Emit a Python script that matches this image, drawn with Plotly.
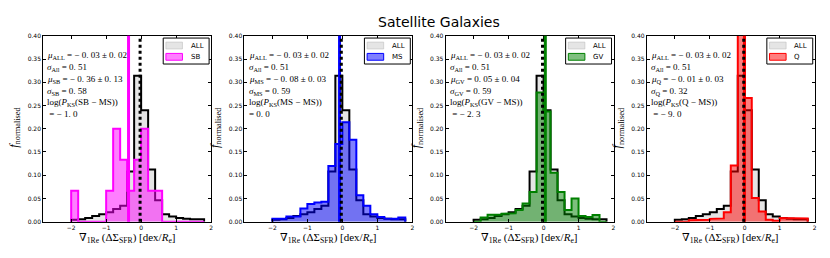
import plotly.graph_objects as go

# ---------------- data ----------------
BIN_EDGES = [-2.0, -1.8, -1.6, -1.4, -1.2, -1.0, -0.8, -0.6, -0.4, -0.2,
             0.0, 0.2, 0.4, 0.6, 0.8, 1.0, 1.2, 1.4, 1.6, 1.8]

ALL_FRAC = [0.004, 0.005, 0.008, 0.012, 0.016, 0.020, 0.027, 0.034, 0.108, 0.314,
            0.240, 0.112, 0.046, 0.016, 0.011, 0.008, 0.006, 0.005, 0.005]
SB_FRAC = [0.0667, 0.0, 0.0, 0.0, 0.0, 0.0667, 0.2, 0.1333, 0.0667, 0.1333,
           0.2, 0.0667, 0.0667, 0.0, 0.0, 0.0, 0.0, 0.0, 0.0]
MS_FRAC = [0.006, 0.006, 0.011, 0.011, 0.028, 0.038, 0.041, 0.043, 0.120, 0.167,
           0.214, 0.176, 0.057, 0.034, 0.016, 0.010, 0.007, 0.006, 0.009]
GV_FRAC = [0.0, 0.009, 0.015, 0.015, 0.017, 0.018, 0.025, 0.039, 0.064, 0.278,
           0.237, 0.105, 0.064, 0.025, 0.050, 0.012, 0.010, 0.014, 0.0]
Q_FRAC = [0.0, 0.0, 0.003, 0.004, 0.004, 0.006, 0.007, 0.020, 0.121, 0.460,
          0.266, 0.051, 0.022, 0.004, 0.002, 0.008, 0.008, 0.007, 0.007]

GROUPS = ["SB", "MS", "GV", "Q"]
GROUP_FRACS = [SB_FRAC, MS_FRAC, GV_FRAC, Q_FRAC]
MEAN_ALL = -0.03
GROUP_MEANS = [-0.36, -0.08, 0.05, -0.01]

STAT_LINES = [
    ["<i>μ</i><sub>ALL</sub> = − 0. 03 ± 0. 02", "<i>σ</i><sub>All</sub> = 0. 51",
     "<i>μ</i><sub>SB</sub> = − 0. 36 ± 0. 13", "<i>σ</i><sub>SB</sub> = 0. 58",
     "log(<i>P</i><sub>KS</sub>(SB − MS))", " = − 1. 0"],
    ["<i>μ</i><sub>ALL</sub> = − 0. 03 ± 0. 02", "<i>σ</i><sub>All</sub> = 0. 51",
     "<i>μ</i><sub>MS</sub> = − 0. 08 ± 0. 03", "<i>σ</i><sub>MS</sub> = 0. 59",
     "log(<i>P</i><sub>KS</sub>(MS − MS))", "= 0. 0"],
    ["<i>μ</i><sub>ALL</sub> = − 0. 03 ± 0. 02", "<i>σ</i><sub>All</sub> = 0. 51",
     "<i>μ</i><sub>GV</sub> = 0. 05 ± 0. 04", "<i>σ</i><sub>GV</sub> = 0. 59",
     "log(<i>P</i><sub>KS</sub>(GV − MS))", " = − 2. 3"],
    ["<i>μ</i><sub>ALL</sub> = − 0. 03 ± 0. 02", "<i>σ</i><sub>All</sub> = 0. 51",
     "<i>μ</i><sub>Q</sub> = − 0. 01 ± 0. 03", "<i>σ</i><sub>Q</sub> = 0. 32",
     "log(<i>P</i><sub>KS</sub>(Q − MS))", " = − 9. 0"],
]

X_TICKS = [-2, -1, 0, 1, 2]
X_TICK_TEXT = ["−2", "−1", "0", "1", "2"]
Y_TICKS = [0.0, 0.05, 0.10, 0.15, 0.20, 0.25, 0.30, 0.35, 0.40]
Y_TICK_TEXT = ["0.00", "0.05", "0.10", "0.15", "0.20", "0.25", "0.30", "0.35", "0.40"]

# ---------------- style ----------------
W, H = 830, 258
EDGE = {"SB": "#ff00ff", "MS": "#0000ff", "GV": "#008000", "Q": "#ff0000"}
FILL = {"SB": "rgba(255,0,255,0.5)", "MS": "rgba(0,0,255,0.5)",
        "GV": "rgba(0,128,0,0.5)", "Q": "rgba(255,0,0,0.5)"}
GREY_FILL = "rgba(211,211,211,0.6)"
SERIF = "Liberation Serif, DejaVu Serif, serif"
SANS = "DejaVu Sans, sans-serif"

PANEL_LEFT = [43.3, 245.0, 446.7, 648.4]
PANEL_W = 168.3
TOP_PX, BOT_PX = 32.7, 223.7


def step_xy(edges, vals):
    xs, ys = [edges[0]], [0.0]
    for i, v in enumerate(vals):
        xs += [edges[i], edges[i + 1]]
        ys += [v, v]
    xs.append(edges[-1])
    ys.append(0.0)
    return xs, ys


fig = go.Figure()
annotations = []
shapes = []

for p, (grp, frac, mu) in enumerate(zip(GROUPS, GROUP_FRACS, GROUP_MEANS)):
    ax = "" if p == 0 else str(p + 1)
    xa, ya = "x" + ax, "y" + ax
    x0 = PANEL_LEFT[p] / W
    x1 = (PANEL_LEFT[p] + PANEL_W) / W
    y0 = (H - BOT_PX) / H
    y1 = (H - TOP_PX) / H
    axis_common = dict(showline=True, linecolor="black", linewidth=1, mirror="ticks",
                       ticks="inside", ticklen=3, tickcolor="black", showgrid=False,
                       zeroline=False, tickfont=dict(family=SANS, size=6, color="black"))
    fig.update_layout(**{
        "xaxis" + ax: dict(domain=[x0, x1], range=[-2.8, 2.0], anchor=ya,
                           tickvals=X_TICKS, ticktext=X_TICK_TEXT, **axis_common),
        "yaxis" + ax: dict(domain=[y0, y1], range=[0, 0.4], anchor=xa,
                           tickvals=Y_TICKS, ticktext=Y_TICK_TEXT, **axis_common),
    })

    xs, ys = step_xy(BIN_EDGES, ALL_FRAC)
    fig.add_trace(go.Scatter(x=xs, y=ys, xaxis=xa, yaxis=ya, mode="lines",
                             fill="tozeroy", fillcolor=GREY_FILL,
                             line=dict(color="rgba(0,0,0,0)", width=0), showlegend=False,
                             hoverinfo="skip"))
    fig.add_trace(go.Scatter(x=xs, y=ys, xaxis=xa, yaxis=ya, mode="lines",
                             line=dict(color="black", width=2), showlegend=False,
                             hoverinfo="skip"))
    gx, gy = step_xy(BIN_EDGES, frac)
    fig.add_trace(go.Scatter(x=gx, y=gy, xaxis=xa, yaxis=ya, mode="lines",
                             fill="tozeroy", fillcolor=FILL[grp],
                             line=dict(color=EDGE[grp], width=2), showlegend=False,
                             hoverinfo="skip"))

    # mean lines
    shapes.append(dict(type="line", xref=xa, yref=ya + " domain", x0=mu, x1=mu,
                       y0=0, y1=1, line=dict(color=EDGE[grp], width=3), layer="above"))
    shapes.append(dict(type="line", xref=xa, yref=ya + " domain", x0=MEAN_ALL, x1=MEAN_ALL,
                       y0=0, y1=1, line=dict(color="black", width=3, dash="dot"),
                       layer="above"))

    # legend box (manual)
    pw = PANEL_W
    ph = BOT_PX - TOP_PX
    bx1 = 1 - 2.0 / pw
    bx0 = bx1 - 46.0 / pw
    by1 = 1 - 2.3 / ph
    by0 = 1 - 29.0 / ph
    shapes.append(dict(type="rect", xref=xa + " domain", yref=ya + " domain",
                       x0=bx0, x1=bx1, y0=by0, y1=by1, fillcolor="white",
                       line=dict(color="black", width=1), layer="above"))
    for k, (lab, fc, lc) in enumerate([("ALL", GREY_FILL, "rgba(190,190,190,0.6)"),
                                        (grp, FILL[grp], EDGE[grp])]):
        cy = 1 - (10.0 + 11.6 * k) / ph
        shapes.append(dict(type="rect", xref=xa + " domain", yref=ya + " domain",
                           x0=bx0 + 2.7 / pw, x1=bx0 + 19.3 / pw,
                           y0=cy - 3.5 / ph, y1=cy + 3.5 / ph, fillcolor=fc,
                           line=dict(color=lc, width=1), layer="above"))
        annotations.append(dict(xref=xa + " domain", yref=ya + " domain",
                                x=bx0 + 25.5 / pw, y=cy, text=lab, showarrow=False,
                                xanchor="left", yanchor="middle",
                                font=dict(family=SANS, size=7, color="black")))

    # stats text
    line_y = [53.4, 64.9, 77.3, 89.8, 101.7, 113.3]
    for txt, ypx in zip(STAT_LINES[p], line_y):
        annotations.append(dict(xref="paper", yref="paper",
                                x=(PANEL_LEFT[p] + 2.2) / W, y=(H - ypx) / H,
                                text=txt, showarrow=False, xanchor="left",
                                yanchor="middle",
                                font=dict(family=SERIF, size=9, color="black")))

    # axis titles
    annotations.append(dict(xref="paper", yref="paper",
                            x=(PANEL_LEFT[p] + PANEL_W / 2) / W, y=(H - 240.5) / H,
                            text="∇<sub>1Re</sub> (ΔΣ<sub>SFR</sub>) [dex/<i>R</i><sub>e</sub>]",
                            showarrow=False, xanchor="center", yanchor="middle",
                            font=dict(family=SERIF, size=11, color="black")))
    annotations.append(dict(xref="paper", yref="paper",
                            x=(PANEL_LEFT[p] - 29) / W, y=(H - 127) / H,
                            text="<i>f</i><sub>normalised</sub>", textangle=-90,
                            showarrow=False, xanchor="center", yanchor="middle",
                            font=dict(family=SERIF, size=12, color="black")))

annotations.append(dict(xref="paper", yref="paper", x=440 / W, y=(H - 18) / H,
                        text="Satellite Galaxies", showarrow=False, xanchor="center",
                        yanchor="middle", font=dict(family=SANS, size=14, color="black")))

fig.update_layout(width=W, height=H, margin=dict(l=0, r=0, t=0, b=0),
                  paper_bgcolor="white", plot_bgcolor="white", showlegend=False,
                  annotations=annotations, shapes=shapes)

fig.write_html("out.html", config={"displayModeBar": False},
               post_script="document.body.style.margin='0';document.body.style.padding='0';")
